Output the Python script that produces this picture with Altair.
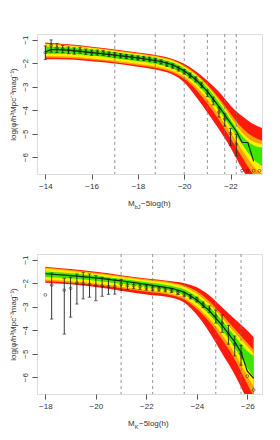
import altair as alt
import pandas as pd

# ---------------- top panel: b_J band ----------------
bj_grid = [-14, -15, -16, -17, -18, -19, -19.5, -20, -20.5, -21, -21.5, -22, -22.5, -23, -23.4]
bj_red_hi = [-1.12, -1.2, -1.3, -1.42, -1.55, -1.7, -1.82, -2.03, -2.35, -2.75, -3.22, -3.8, -4.25, -4.6, -4.78]
bj_orange_hi = [-1.16, -1.23, -1.33, -1.45, -1.58, -1.74, -1.87, -2.1, -2.45, -2.92, -3.5, -4.15, -4.75, -5.15, -5.3]
bj_yellow_hi = [-1.2, -1.26, -1.36, -1.48, -1.61, -1.77, -1.9, -2.14, -2.5, -2.98, -3.58, -4.28, -4.95, -5.35, -5.45]
bj_green_hi = [-1.3, -1.34, -1.43, -1.54, -1.67, -1.83, -1.97, -2.22, -2.58, -3.06, -3.68, -4.4, -5.1, -5.5, -5.6]
bj_green_lo = [-1.6, -1.6, -1.68, -1.79, -1.92, -2.08, -2.23, -2.47, -2.86, -3.38, -4.02, -4.72, -5.45, -6.1, -6.4]
bj_yellow_lo = [-1.7, -1.72, -1.8, -1.9, -2.03, -2.19, -2.33, -2.58, -3.0, -3.55, -4.22, -4.95, -5.7, -6.4, -6.75]
bj_orange_lo = [-1.76, -1.78, -1.86, -1.96, -2.09, -2.25, -2.4, -2.67, -3.12, -3.72, -4.42, -5.2, -6.0, -6.75, -7.1]
bj_red_lo = [-1.84, -1.85, -1.92, -2.02, -2.15, -2.32, -2.48, -2.82, -3.42, -4.1, -4.82, -5.6, -6.5, -7.3, -7.7]

bj_line_x = [-14, -14.25, -15, -16, -17, -18, -19, -19.5, -20, -20.5, -21, -21.5, -22, -22.25, -22.5, -22.75, -23.0]
bj_line_y = [-1.52, -1.42, -1.45, -1.55, -1.66, -1.78, -1.93, -2.07, -2.33, -2.7, -3.2, -3.85, -4.55, -4.9, -5.38, -5.38, -6.18]

bj_mag = [-14.0, -14.25, -14.5, -14.75, -15.0, -15.25, -15.5, -15.75, -16.0, -16.25, -16.5, -16.75,
          -17.0, -17.25, -17.5, -17.75, -18.0, -18.25, -18.5, -18.75, -19.0, -19.25, -19.5, -19.75,
          -20.0, -20.25, -20.5, -20.75, -21.0, -21.25, -21.5, -21.75, -22.0, -22.25]
bj_phi = [-1.55, -1.25, -1.35, -1.40, -1.45, -1.48, -1.45, -1.52, -1.55, -1.55, -1.56, -1.62,
          -1.65, -1.68, -1.72, -1.75, -1.78, -1.80, -1.83, -1.88, -1.95, -2.04, -2.12, -2.24,
          -2.37, -2.52, -2.68, -2.92, -3.28, -3.6, -4.08, -4.38, -5.0, -5.45]
bj_err_up = [0.28, 0.24, 0.18, 0.15, 0.14, 0.13, 0.12, 0.12, 0.11, 0.11, 0.1, 0.1,
             0.1, 0.09, 0.09, 0.09, 0.09, 0.09, 0.09, 0.09, 0.09, 0.09, 0.09, 0.09,
             0.1, 0.1, 0.1, 0.11, 0.13, 0.15, 0.18, 0.22, 0.22, 0.42]
bj_err_dn = [0.3, 0.28, 0.2, 0.16, 0.15, 0.14, 0.13, 0.12, 0.12, 0.11, 0.11, 0.1,
             0.1, 0.1, 0.09, 0.09, 0.09, 0.09, 0.09, 0.09, 0.09, 0.1, 0.1, 0.1,
             0.1, 0.11, 0.12, 0.13, 0.15, 0.18, 0.22, 0.3, 0.5, 0.5]
bj_floor_mag = [-22.5, -22.75, -23.0, -23.25]
bj_floor_phi = [-6.58, -6.58, -6.58, -6.58]
bj_cuts = [-17.0, -18.75, -20.0, -21.0, -21.75, -22.25]
bj_ticks = [-14, -16, -18, -20, -22]

# ---------------- bottom panel: K band ----------------
k_grid = [-18, -19, -20, -21, -22, -23, -23.5, -24, -24.5, -25, -25.5, -26, -26.25]
k_red_hi = [-1.3, -1.4, -1.52, -1.66, -1.8, -1.92, -2.0, -2.18, -2.53, -3.03, -3.53, -4.02, -4.3]
k_orange_hi = [-1.34, -1.44, -1.56, -1.7, -1.84, -1.97, -2.1, -2.35, -2.78, -3.35, -3.95, -4.55, -4.85]
k_yellow_hi = [-1.38, -1.48, -1.6, -1.74, -1.88, -2.02, -2.16, -2.45, -2.9, -3.48, -4.1, -4.7, -5.0]
k_green_hi = [-1.5, -1.58, -1.69, -1.82, -1.96, -2.12, -2.27, -2.58, -3.03, -3.6, -4.25, -4.9, -5.1]
k_green_lo = [-1.74, -1.8, -1.9, -2.03, -2.17, -2.33, -2.5, -2.85, -3.35, -4.0, -4.75, -5.6, -6.0]
k_yellow_lo = [-1.86, -1.92, -2.02, -2.15, -2.3, -2.45, -2.62, -3.0, -3.52, -4.2, -5.0, -5.95, -6.4]
k_orange_lo = [-1.92, -1.98, -2.08, -2.22, -2.37, -2.52, -2.7, -3.1, -3.65, -4.4, -5.25, -6.3, -6.8]
k_red_lo = [-1.98, -2.05, -2.16, -2.32, -2.48, -2.62, -2.82, -3.35, -4.1, -5.0, -5.9, -7.0, -7.6]

k_line_x = [-18, -19, -20, -21, -22, -23, -23.5, -24, -24.5, -25, -25.5, -25.75, -26, -26.25]
k_line_y = [-1.6, -1.68, -1.78, -1.9, -2.05, -2.22, -2.38, -2.72, -3.18, -3.8, -4.5, -4.95, -5.75, -6.05]

k_mag = [-18.0, -18.25, -18.75, -19.0, -19.25, -19.5, -19.75, -20.0, -20.25, -20.5, -20.75,
         -21.0, -21.25, -21.5, -21.75, -22.0, -22.25, -22.5, -22.75, -23.0, -23.25, -23.5,
         -23.75, -24.0, -24.25, -24.5, -24.75, -25.0, -25.25, -25.5, -25.75, -26.0, -26.25]
k_phi = [-2.5, -2.08, -2.3, -2.22, -2.0, -2.02, -2.05, -2.1, -2.12, -2.15, -2.15,
         -2.05, -2.1, -2.1, -2.15, -2.2, -2.22, -2.25, -2.28, -2.32, -2.4, -2.48,
         -2.58, -2.7, -2.92, -3.1, -3.4, -3.7, -4.15, -4.6, -5.0, -5.96, -6.55]
k_err_up = [0, 0.51, 0.51, 0.47, 0.39, 0.48, 0.44, 0.42, 0.37, 0.33, 0.3,
            0.2, 0.15, 0.13, 0.12, 0.1, 0.1, 0.09, 0.09, 0.08, 0.08, 0.08,
            0.09, 0.1, 0.12, 0.13, 0.25, 0.35, 0.35, 0.35, 0.35, 0, 0]
k_err_dn = [0, 1.45, 1.87, 1.23, 0.89, 0.65, 0.55, 0.65, 0.44, 0.33, 0.32,
            0.25, 0.17, 0.14, 0.12, 0.1, 0.1, 0.09, 0.09, 0.08, 0.08, 0.08,
            0.09, 0.1, 0.12, 0.14, 0.3, 0.4, 0.45, 0.5, 0.5, 0, 0]
k_cuts = [-21.0, -22.25, -23.5, -24.75, -25.75]
k_ticks = [-18, -20, -22, -24, -26]

y_ticks = [-1, -2, -3, -4, -5, -6]
y_title = "log(φ/h³Mpc⁻³mag⁻¹)"

band_colors = ["#ff1a0d", "#ffa200", "#fff000", "#3ce600"]

W, H = 225, 140
FONT = "Liberation Sans"


def panel(grid, bands, line_x, line_y, mag, phi, eup, edn, floor_mag, floor_phi,
          cuts, xticks, xdom, sub):
    xs = alt.Scale(domain=xdom, nice=False, zero=False)
    ys = alt.Scale(domain=[-6.72, -0.76], nice=False, zero=False)
    xax = alt.Axis(values=xticks, format="d", title=None, grid=False, domain=False,
                   tickSize=5, tickColor="#555", labelPadding=3, labelFontSize=8,
                   labelFont=FONT, labelColor="#333", labelOverlap=False)
    yax = alt.Axis(values=y_ticks, format="d", title=y_title, grid=False, domain=False,
                   tickSize=5, tickColor="#555", labelPadding=3, labelFontSize=8,
                   labelFont=FONT, labelColor="#333", labelAngle=270,
                   labelOverlap=False, labelAlign="center", labelBaseline="bottom",
                   titleFont=FONT, titleFontSize=8, titleFontWeight="normal",
                   titleColor="#333", titlePadding=4)

    def X(f):
        return alt.X(f, scale=xs, axis=xax)

    def Y(f):
        return alt.Y(f, scale=ys, axis=yax)

    layers = []
    for (lo, hi), col in zip(bands, band_colors):
        df = pd.DataFrame({"x": grid, "lo": lo, "hi": hi})
        layers.append(
            alt.Chart(df).mark_area(color=col, clip=True, interpolate="monotone").encode(
                x=X("x:Q"), y=Y("lo:Q"), y2="hi:Q",
            )
        )
    cdf = pd.DataFrame({"c": cuts})
    layers.append(
        alt.Chart(cdf).mark_rule(color="#777", strokeDash=[3, 3], strokeWidth=0.8).encode(
            x=X("c:Q")
        )
    )
    ldf = pd.DataFrame({"x": line_x, "y": line_y})
    layers.append(
        alt.Chart(ldf).mark_line(color="#0d2a1e", strokeWidth=1.2, clip=True).encode(
            x=X("x:Q"), y=Y("y:Q")
        )
    )
    ddf = pd.DataFrame({"m": mag, "p": phi, "up": eup, "dn": edn})
    ddf["hi"] = ddf["p"] + ddf["up"]
    ddf["lo"] = ddf["p"] - ddf["dn"]
    bars = ddf[(ddf["up"] > 0) | (ddf["dn"] > 0)]
    layers.append(
        alt.Chart(bars).mark_rule(color="#222", strokeWidth=0.9).encode(
            x=X("m:Q"), y=Y("lo:Q"), y2="hi:Q"
        )
    )
    for col in ["lo", "hi"]:
        layers.append(
            alt.Chart(bars).mark_point(shape="stroke", size=12, color="#222",
                                       strokeWidth=0.9).encode(
                x=X("m:Q"), y=Y(f"{col}:Q")
            )
        )
    layers.append(
        alt.Chart(ddf).mark_point(filled=False, size=8, color="#222", strokeWidth=0.8).encode(
            x=X("m:Q"), y=Y("p:Q")
        )
    )
    if floor_mag:
        fdf = pd.DataFrame({"m": floor_mag, "p": floor_phi})
        layers.append(
            alt.Chart(fdf).mark_point(filled=False, size=8, color="#222",
                                      strokeWidth=0.8).encode(
                x=X("m:Q"), y=Y("p:Q")
            )
        )
    # x-axis title built from text pieces (subscript)
    tx = 91
    ty = 170
    layers.append(
        alt.Chart(pd.DataFrame({"t": ["M"]})).mark_text(
            align="left", baseline="middle", font=FONT, fontSize=8, color="#333"
        ).encode(x=alt.value(tx), y=alt.value(ty), text="t:N")
    )
    layers.append(
        alt.Chart(pd.DataFrame({"t": [sub]})).mark_text(
            align="left", baseline="middle", font=FONT, fontSize=5.5, color="#333"
        ).encode(x=alt.value(tx + 6.8), y=alt.value(ty + 2.5), text="t:N")
    )
    off = 6.8 + (6.3 if len(sub) > 1 else 4.2)
    layers.append(
        alt.Chart(pd.DataFrame({"t": ["−5log(h)"]})).mark_text(
            align="left", baseline="middle", font=FONT, fontSize=8, color="#333"
        ).encode(x=alt.value(tx + off), y=alt.value(ty), text="t:N")
    )
    return alt.layer(*layers).properties(width=W, height=H)


top = panel(
    bj_grid,
    [(bj_red_lo, bj_red_hi), (bj_orange_lo, bj_orange_hi),
     (bj_yellow_lo, bj_yellow_hi), (bj_green_lo, bj_green_hi)],
    bj_line_x, bj_line_y, bj_mag, bj_phi, bj_err_up, bj_err_dn,
    bj_floor_mag, bj_floor_phi, bj_cuts, bj_ticks, [-13.64, -23.36], "bJ",
)
bottom = panel(
    k_grid,
    [(k_red_lo, k_red_hi), (k_orange_lo, k_orange_hi),
     (k_yellow_lo, k_yellow_hi), (k_green_lo, k_green_hi)],
    k_line_x, k_line_y, k_mag, k_phi, k_err_up, k_err_dn,
    [], [], k_cuts, k_ticks, [-17.67, -26.58], "K",
)

chart = alt.vconcat(top, bottom, spacing=80, bounds="flush").properties(
    padding={"left": 0, "top": 25, "right": 5, "bottom": 5}
).configure_view(stroke="#888", strokeWidth=1).configure(background="white")

chart.save("out.html", embed_options={"renderer": "svg", "actions": False})
